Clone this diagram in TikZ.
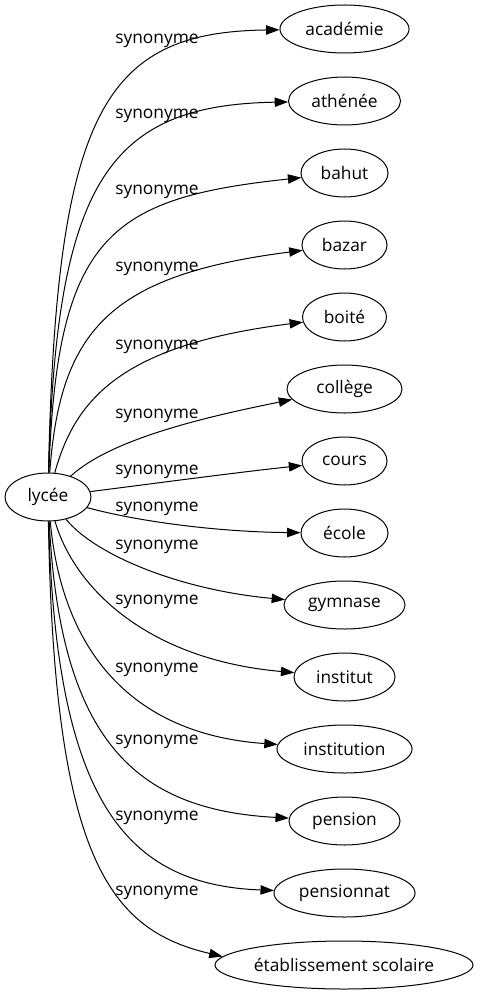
\documentclass[tikz,border=0pt]{standalone}
\usepackage{fontspec}
\setmainfont{Open Sans}
\usetikzlibrary{arrows.meta,shapes.geometric}
\tikzset{
    syn word/.style={
        draw=black,
        ellipse,
        line width=0.75pt,
        minimum height=36pt,
        inner sep=0pt,
        font=\fontsize{13}{15}\selectfont
    },
    syn label/.style={font=\fontsize{13}{15}\selectfont, inner sep=0pt},
    syn arrow/.style={-{Triangle[length=10pt,width=7pt]}, line width=0.75pt, draw=black}
}

\begin{document}
\begin{tikzpicture}[x=0.75pt, y=-0.75pt]
\useasboundingbox (0,0) rectangle (479,995);

% source word
\node[syn word, minimum width=64.5pt] (lycee) at (48,497) {lycée};

% synonyms
\node[syn word, minimum width=96.8pt] (academie) at (344.5,29) {académie};
\node[syn word, minimum width=84pt] (athenee) at (344.5,101) {athénée};
\node[syn word, minimum width=65.3pt] (bahut) at (344.5,173) {bahut};
\node[syn word, minimum width=63.8pt] (bazar) at (344.5,245) {bazar};
\node[syn word, minimum width=63pt] (boite) at (344.5,317) {boité};
\node[syn word, minimum width=86.3pt] (college) at (344.5,389) {collège};
\node[syn word, minimum width=63.8pt] (cours) at (344.5,461) {cours};
\node[syn word, minimum width=65.3pt] (ecole) at (344.5,533) {école};
\node[syn word, minimum width=90.8pt] (gymnase) at (344.5,605) {gymnase};
\node[syn word, minimum width=75.8pt] (institut) at (344.5,677) {institut};
\node[syn word, minimum width=101.3pt] (institution) at (344.5,749) {institution};
\node[syn word, minimum width=83.3pt] (pension) at (344.5,821) {pension};
\node[syn word, minimum width=105.8pt] (pensionnat) at (344.5,893) {pensionnat};
\node[syn word, minimum width=193.5pt] (etab) at (344,965) {établissement scolaire};

% edge labels
\node[syn label] (l1) at (157,41) {synonyme};
\node[syn label] (l2) at (157,116) {synonyme};
\node[syn label] (l3) at (157,192) {synonyme};
\node[syn label] (l4) at (157,269) {synonyme};
\node[syn label] (l5) at (157,347) {synonyme};
\node[syn label] (l6) at (157,416) {synonyme};
\node[syn label] (l7) at (157,472) {synonyme};
\node[syn label] (l8) at (157,509) {synonyme};
\node[syn label] (l9) at (157,547) {synonyme};
\node[syn label] (l10) at (157,602) {synonyme};
\node[syn label] (l11) at (157,670) {synonyme};
\node[syn label] (l12) at (157,742) {synonyme};
\node[syn label] (l13) at (157,818) {synonyme};
\node[syn label] (l14) at (157,893) {synonyme};

% edges
\draw[syn arrow] (lycee) .. controls (56,110) and (105,32) .. (academie);
\draw[syn arrow] (lycee) .. controls (56,180) and (110,105) .. (athenee);
\draw[syn arrow] (lycee) .. controls (57,235) and (110,198) .. (bahut);
\draw[syn arrow] (lycee) .. controls (60,330) and (110,275) .. (bazar);
\draw[syn arrow] (lycee) .. controls (75,400) and (120,345) .. (boite);
\draw[syn arrow] (lycee) .. controls (110,440) and (200,418) .. (college);
\draw[syn arrow] (lycee) .. controls (150,484) and (240,472) .. (cours);
\draw[syn arrow] (lycee) .. controls (140,522) and (220,532) .. (ecole);
\draw[syn arrow] (lycee) .. controls (95,555) and (180,590) .. (gymnase);
\draw[syn arrow] (lycee) .. controls (75,590) and (150,660) .. (institut);
\draw[syn arrow] (lycee) .. controls (63,660) and (140,735) .. (institution);
\draw[syn arrow] (lycee) .. controls (60,740) and (135,810) .. (pension);
\draw[syn arrow] (lycee) .. controls (56,800) and (125,885) .. (pensionnat);
\draw[syn arrow] (lycee) .. controls (54,860) and (110,930) .. (etab.176);
\end{tikzpicture}
\end{document}
